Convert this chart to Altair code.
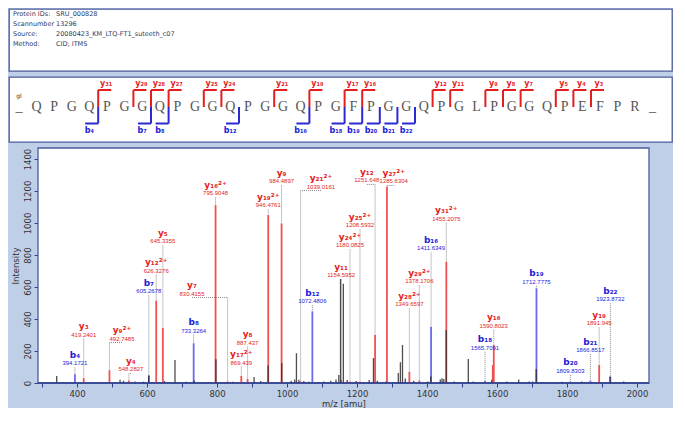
import altair as alt
import pandas as pd

# ---------------- data ----------------
info_labels = ["Protein IDs:", "Scannumber", "Source:", "Method:"]
info_values = ["SRU_000828", "13296", "20080423_KM_LTQ-FT1_suteeth_c07", "CID; ITMS"]

sequence = ["_"] + list("QPGQPGGQPGGQPGGQPGFPGGQPGLPGGQPEFPR") + ["_"]
b_ions_seq = [4, 7, 8, 12, 16, 18, 19, 20, 21, 22]
y_ions_seq = [31, 29, 28, 27, 25, 24, 21, 19, 17, 16, 12, 11, 9, 8, 7, 5, 4, 3]

ann_type = ["b","y","y","y","b","y","y","b","y","y","y","y","y","y","y","b",
            "y","y","y","y","y","y","y","b","y","b","y","b","b","b","y","b"]
ann_num = [4,3,9,4,7,12,5,8,16,7,17,8,19,9,21,12,11,24,25,12,27,28,29,16,31,18,16,19,20,21,19,22]
ann_charge = [1,1,2,1,1,2,1,1,2,1,2,1,2,1,2,1,1,2,2,1,2,2,2,1,2,1,1,1,1,1,1,1]
ann_mz_text = ["394.1721","419.2401","492.7485","548.2827","605.2678","626.3276","645.3355",
               "733.3264","795.9048","830.4155","869.439","887.437","946.4761","984.4897",
               "1039.0161","1072.4806","1154.5952","1180.0825","1208.5932","1251.648",
               "1285.6304","1349.6597","1378.1706","1411.6349","1455.2075","1565.7091",
               "1590.8023","1712.7775","1809.8303","1866.8517","1891.945","1923.8732"]
ann_peak_mz = [394.17,419.24,492.75,548.28,605.27,626.33,645.34,733.33,795.90,830.42,869.44,
               887.44,946.48,984.49,1039.02,1072.48,1154.60,1180.08,1208.59,1251.65,1285.63,
               1349.66,1378.17,1411.63,1455.21,1565.71,1590.80,1712.78,1809.83,1866.85,
               1891.94,1923.87]
ann_peak_int = [55,30,80,15,45,515,345,248,1112,10,44,25,1050,998,10,448,20,10,10,300,1227,
                70,15,352,757,12,237,592,8,15,112,40]
ann_label_mz = [394.17,419.24,528.6,554.0,605.27,626.33,645.34,733.33,795.90,728.6,869.44,
                887.44,946.48,984.49,1097.0,1072.48,1154.60,1180.08,1208.59,1228.0,1305.0,
                1349.66,1378.17,1411.63,1455.21,1565.71,1590.80,1712.78,1809.83,1866.85,
                1891.94,1923.87]
ann_label_int = [175,356,331,138,625,756,938,381,1238,612,181,306,1163,1313,1281,564,725,913,
                 1038,1319,1313,544,688,894,1081,273,411,686,129,258,425,577]

black_mz = [342,523,533,566,590,605,650,680,712,735,797,845,906,925,946,985,1012,1022,1027,
            1034,1048,1062,1105,1125,1140,1148,1153,1161,1172,1198,1235,1247,1258,1283,1318,
            1324,1330,1338,1362,1402,1411,1438,1443,1448,1455,1478,1518,1532,1585,1628,1662,
            1692,1702,1712,1785,1842,1923,1962]
black_int = [44,20,14,10,8,48,12,144,8,15,148,8,37,12,110,125,14,22,186,20,12,8,10,14,22,50,
             650,620,18,12,18,156,14,10,62,130,238,28,14,10,40,22,30,25,331,10,150,10,20,10,
             22,10,10,87,8,10,40,10]
extra_red_mz = [1588]
extra_red_int = [112]

# axis ranges of the spectrum
mz_min, mz_max = 288.6, 2034.3
int_max = 1469

# ---------------- styles ----------------
BG = "#bfcfe8"
FRAME = "#4b5c9c"
RED_T, BLUE_T = "#e41e1e", "#1c1cd8"
RED_B, BLUE_B = "#f25050", "#6a6aee"
SUB = str.maketrans("0123456789", "₀₁₂₃₄₅₆₇₈₉")
PANEL_VIEW = alt.ViewBackground(fill="white", stroke=FRAME, strokeWidth=1.3)
W = 663

# ---------------- panel A : info ----------------
info_df = pd.DataFrame({"row": list(range(len(info_labels))),
                        "label": info_labels, "value": info_values})
ya = alt.Y("row:Q", scale=alt.Scale(domain=[-0.5, 5.7], reverse=True), axis=None)
a_lab = alt.Chart(info_df).mark_text(align="left", baseline="middle", fontSize=6.5,
                                     font="DejaVu Sans", color="#333a5e").encode(
    x=alt.value(4), y=ya, text="label:N")
a_val = alt.Chart(info_df).mark_text(align="left", baseline="middle", fontSize=6.5,
                                     font="DejaVu Sans", color="#333a5e").encode(
    x=alt.value(47), y=ya, text="value:N")
chart_a = alt.layer(a_lab, a_val).properties(width=W, height=62, view=PANEL_VIEW)

# ---------------- panel B : sequence ----------------
PX = 17.6
XMIN = -10 / PX
xsb = alt.Scale(domain=[XMIN, XMIN + W / PX], nice=False, zero=False)
ysb = alt.Scale(domain=[0, 65], reverse=True, nice=False, zero=False)
MID, TOP, BOT, YLAB, BLAB = 30, 13, 46.5, 6.5, 54
ARM = 0.74

seq_df = pd.DataFrame({"pos": list(range(len(sequence))), "aa": sequence, "lvl": MID})
yb_df = pd.DataFrame({"n": y_ions_seq})
yb_df["cut"] = 35 - yb_df["n"] + 0.5
yb_df["xr"] = yb_df["cut"] + ARM
yb_df["lx"] = yb_df["cut"] + 0.45
yb_df["mid"], yb_df["top"], yb_df["ly"] = MID, TOP, YLAB
yb_df["txt"] = ["y" + str(n).translate(SUB) for n in y_ions_seq]
bb_df = pd.DataFrame({"n": b_ions_seq})
bb_df["cut"] = bb_df["n"] + 0.5
bb_df["xl"] = bb_df["cut"] - ARM
bb_df["lx"] = bb_df["cut"] - 0.5
bb_df["mid"], bb_df["bot"], bb_df["ly"] = MID, BOT, BLAB
bb_df["txt"] = ["b" + str(n).translate(SUB) for n in b_ions_seq]
gl_df = pd.DataFrame({"pos": [0], "lvl": [18.5], "t": ["gl"]})

def XB(f):
    return alt.X(f, type="quantitative", scale=xsb, axis=None)
def YB(f):
    return alt.Y(f, type="quantitative", scale=ysb, axis=None)

b_letters = alt.Chart(seq_df).mark_text(font="Liberation Serif", fontSize=14,
                                        color="#555555", baseline="middle").encode(
    x=XB("pos"), y=YB("lvl"), text="aa:N")
b_gl = alt.Chart(gl_df).mark_text(fontSize=6, font="DejaVu Sans", color="#333",
                                  baseline="middle").encode(x=XB("pos"), y=YB("lvl"), text="t:N")
y_v = alt.Chart(yb_df).mark_rule(color=RED_T, strokeWidth=2).encode(
    x=XB("cut"), y=YB("mid"), y2="top:Q")
y_h = alt.Chart(yb_df).mark_rule(color=RED_T, strokeWidth=2).encode(
    x=XB("cut"), x2="xr:Q", y=YB("top"))
y_t = alt.Chart(yb_df).mark_text(color=RED_T, fontSize=8, fontWeight="bold",
                                 font="DejaVu Sans", baseline="middle").encode(
    x=XB("lx"), y=YB("ly"), text="txt:N")
b_v = alt.Chart(bb_df).mark_rule(color="#2a2ad0", strokeWidth=2).encode(
    x=XB("cut"), y=YB("mid"), y2="bot:Q")
b_h = alt.Chart(bb_df).mark_rule(color="#2a2ad0", strokeWidth=2).encode(
    x=XB("xl"), x2="cut:Q", y=YB("bot"))
b_t = alt.Chart(bb_df).mark_text(color=BLUE_T, fontSize=8, fontWeight="bold",
                                 font="DejaVu Sans", baseline="middle").encode(
    x=XB("lx"), y=YB("ly"), text="txt:N")
chart_b = alt.layer(y_v, y_h, b_v, b_h, b_letters, b_gl, y_t, b_t).properties(
    width=W, height=65, view=PANEL_VIEW)

# ---------------- panel C : spectrum ----------------
ann = pd.DataFrame({"type": ann_type, "num": ann_num, "z": ann_charge, "mztxt": ann_mz_text,
                    "pmz": ann_peak_mz, "pint": ann_peak_int,
                    "lmz": ann_label_mz, "lint": ann_label_int})
ann["name"] = [t + str(n).translate(SUB) + ("²⁺" if z == 2 else "")
               for t, n, z in zip(ann_type, ann_num, ann_charge)]
ann["vint"] = ann["lint"] - 53
ann["ltop"] = ann["lint"] - 78
ann["base"] = 0
brk = ann[(ann["lmz"] - ann["pmz"]).abs() > 1]

red_peaks = pd.concat([ann[ann["type"] == "y"][["pmz", "pint"]],
                       pd.DataFrame({"pmz": extra_red_mz, "pint": extra_red_int})])
red_peaks["base"] = 0
blue_peaks = ann[ann["type"] == "b"][["pmz", "pint"]].copy()
blue_peaks["base"] = 0
blk = pd.DataFrame({"pmz": black_mz, "pint": black_int, "base": 0})
frame_df = pd.DataFrame({"x1": [mz_min], "x2": [mz_max], "y1": [0], "y2": [int_max]})

AXW = 29                       # room on the left for the intensity axis
PXU = 611 / (mz_max - mz_min)  # pixels per m/z unit
xsc = alt.Scale(domain=[mz_min - AXW / PXU, mz_max], nice=False, zero=False)
ysc = alt.Scale(domain=[0, int_max], nice=False, zero=True)
AX = "#2d3d8f"
x_axis = alt.Axis(values=list(range(300, 2001, 100)), format="d",
                  labelExpr="datum.value % 200 == 0 ? datum.label : ''",
                  title="m/z [amu]", titleFontSize=8.5, titleFontWeight="normal",
                  titleColor="#333", labelFontSize=8.5, labelColor="#333",
                  domain=False, tickColor=AX, tickSize=4, labelPadding=2,
                  titlePadding=2, grid=False, labelFont="DejaVu Sans", titleFont="DejaVu Sans",
                  titleX=AXW + 611 / 2)
y_axis = alt.Axis(values=list(range(0, 1401, 200)), format="d", labelAngle=270,
                  title="Intensity", titleFontSize=8.5, titleFontWeight="normal",
                  titleColor="#333", labelFontSize=8.5, labelColor="#333",
                  domainColor=AX, tickColor=AX, tickSize=4, labelPadding=2,
                  titlePadding=3, grid=False, labelFont="DejaVu Sans", titleFont="DejaVu Sans",
                  offset=-AXW)

def XC(f):
    return alt.X(f, type="quantitative", scale=xsc, axis=x_axis)
def YC(f):
    return alt.Y(f, type="quantitative", scale=ysc, axis=y_axis)

plot_bg = alt.Chart(frame_df).mark_rect(fill="white", stroke=FRAME, strokeWidth=1.3).encode(
    x=XC("x1"), x2="x2:Q", y=YC("y1"), y2="y2:Q")
base_line = alt.Chart(frame_df).mark_rule(color=AX, strokeWidth=1.5).encode(
    x=XC("x1"), x2="x2:Q", y=YC("y1"))
lead_v = alt.Chart(ann).mark_rule(color="#8a8a8a", strokeWidth=1, strokeDash=[1, 1]).encode(
    x=XC("pmz"), y=YC("ltop"), y2="pint:Q")
lead_h = alt.Chart(brk).mark_rule(color="#8a8a8a", strokeWidth=1, strokeDash=[1, 1]).encode(
    x=XC("lmz"), x2="pmz:Q", y=YC("ltop"))
pk_r = alt.Chart(red_peaks).mark_rule(color=RED_B, strokeWidth=1.8).encode(
    x=XC("pmz"), y=YC("pint"), y2="base:Q")
pk_b = alt.Chart(blue_peaks).mark_rule(color=BLUE_B, strokeWidth=1.8).encode(
    x=XC("pmz"), y=YC("pint"), y2="base:Q")
pk_k = alt.Chart(blk).mark_rule(color="#222222", strokeWidth=1.3, opacity=0.8).encode(
    x=XC("pmz"), y=YC("pint"), y2="base:Q")
nm = alt.Chart(ann).mark_text(fontSize=9, fontWeight="bold", font="DejaVu Sans",
                              baseline="middle").encode(
    x=XC("lmz"), y=YC("lint"), text="name:N",
    color=alt.Color("type:N", scale=alt.Scale(domain=["b", "y"], range=[BLUE_T, RED_T]), legend=None))
vl = alt.Chart(ann).mark_text(fontSize=6, font="Liberation Sans", baseline="middle").encode(
    x=XC("lmz"), y=YC("vint"), text="mztxt:N",
    color=alt.Color("type:N", scale=alt.Scale(domain=["b", "y"], range=[BLUE_T, RED_T]), legend=None))
chart_c = alt.layer(plot_bg, lead_v, lead_h, pk_r, pk_b, pk_k, base_line, nm, vl).properties(
    width=AXW + 611, height=235, view=alt.ViewBackground(fillOpacity=0, strokeOpacity=0))

chart = alt.vconcat(chart_a, chart_b, chart_c, spacing=4).properties(
    padding=0, background=BG)

chart.save("out.html", embed_options={"renderer": "svg", "actions": False})
